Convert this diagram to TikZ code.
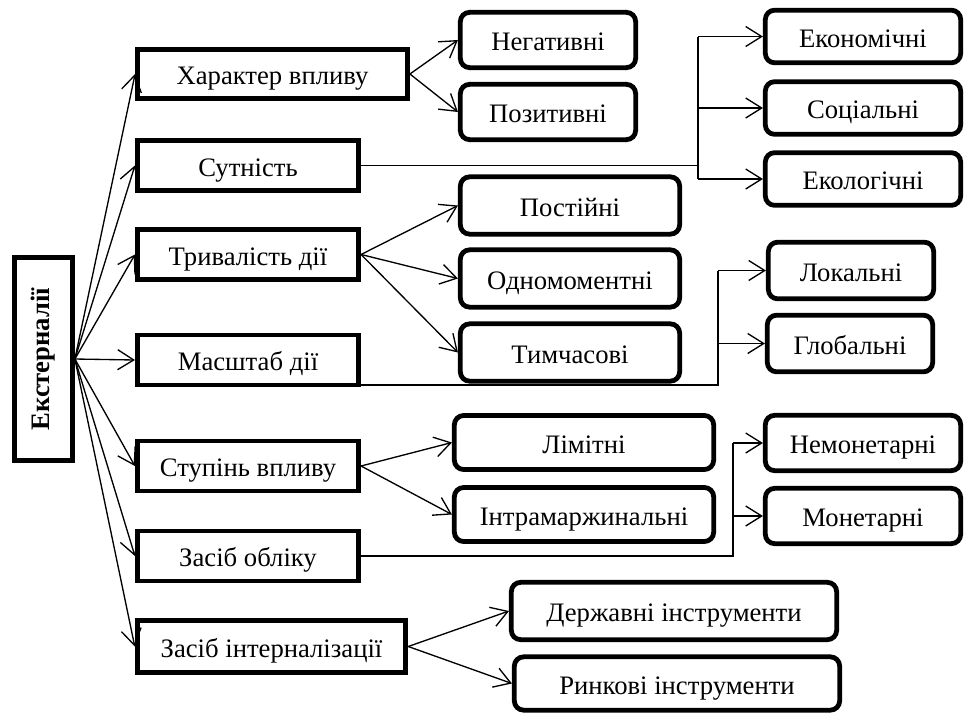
\documentclass[tikz,border=0pt]{standalone}
\usepackage{fontspec}
\setmainfont{Liberation Serif}
\usetikzlibrary{arrows.meta}
\begin{document}
\begin{tikzpicture}[x=0.75pt, y=-0.75pt, font=\fontsize{20}{24}\selectfont]

\tikzstyle{box1}=[rectangle, draw, line width=3.6pt, inner sep=2pt, text height=16pt, text depth=0pt]
\tikzstyle{box2}=[rectangle, draw, rounded corners=7pt, line width=3.6pt, inner sep=2pt, text height=16pt, text depth=0pt]
\tikzstyle{arrow}=[-{Straight Barb[length=12pt,width=15pt]}, line width=1pt]
\tikzstyle{line}=[line width=1pt]

\useasboundingbox (0,0) rectangle (966,714);

\node (Ext) [box1, text height=, text depth=, minimum width=43.5pt, minimum height=152.5pt] at (43.5,359) {\rotatebox{90}{\textbf{Екстерналії}}};

\node (Char) [box1, minimum width=202.5pt, minimum height=37pt] at (272.5,74) {Характер впливу};
\node (Sut) [box1, minimum width=166pt, minimum height=37.5pt] at (248,165.5) {Сутність};
\node (Tryv) [box1, minimum width=166pt, minimum height=37.5pt] at (248,254.5) {Тривалість дії};
\node (Masht) [box1, minimum width=166pt, minimum height=37.5pt] at (248,360) {Масштаб дії};
\node (Stup) [box1, minimum width=166pt, minimum height=37.5pt] at (248,466) {Ступінь впливу};
\node (Zasib) [box1, minimum width=166pt, minimum height=37.5pt] at (248,556) {Засіб обліку};
\node (Intern) [box1, minimum width=201.5pt, minimum height=39pt] at (271.5,646.5) {Засіб інтерналізації};

\node (Neg) [box2, minimum width=131.5pt, minimum height=41.5pt] at (548,40) {Негативні};
\node (Poz) [box2, minimum width=131.5pt, minimum height=41.5pt] at (548,112) {Позитивні};

\node (Ekon) [box2, minimum width=146.5pt, minimum height=39.5pt] at (863,36.5) {Економічні};
\node (Soc) [box2, minimum width=146.5pt, minimum height=39.5pt] at (863,108) {Соціальні};
\node (Ekol) [box2, minimum width=146.5pt, minimum height=39.5pt] at (863,179) {Екологічні};

\node (Post) [box2, minimum width=164.5pt, minimum height=43pt] at (570,205.5) {Постійні};
\node (Odn) [box2, minimum width=164.5pt, minimum height=43pt] at (570,278.5) {Одномоментні};
\node (Tym) [box2, minimum width=164.5pt, minimum height=43pt] at (570,352.5) {Тимчасові};

\node (Lok) [box2, minimum width=124pt, minimum height=42.5pt] at (851,270.5) {Локальні};
\node (Glob) [box2, minimum width=124pt, minimum height=42.5pt] at (850,343.5) {Глобальні};

\node (Lim) [box2, minimum width=194.5pt, minimum height=40.5pt] at (584,442.5) {Лімітні};
\node (Intra) [box2, minimum width=194.5pt, minimum height=40.5pt] at (584,514.5) {Інтрамаржинальні};

\node (Nemon) [box2, minimum width=146.5pt, minimum height=41.5pt] at (863,443) {Немонетарні};
\node (Mon) [box2, minimum width=146.5pt, minimum height=41.5pt] at (863,516) {Монетарні};

\node (Derzh) [box2, minimum width=244pt, minimum height=43pt] at (674,611) {Державні інструменти};
\node (Rynk) [box2, minimum width=244pt, minimum height=40pt] at (677,683.5) {Ринкові інструменти};

\coordinate (S) at (698,165);
\coordinate (M) at (718,385);
\coordinate (Z) at (733,556);

\draw [arrow] (Ext.east) -- (Char.west);
\draw [arrow] (Ext.east) -- (Sut.west);
\draw [arrow] (Ext.east) -- (Tryv.west);
\draw [arrow] (Ext.east) -- (Masht.west);
\draw [arrow] (Ext.east) -- (Stup.west);
\draw [arrow] (Ext.east) -- (Zasib.west);
\draw [arrow] (Ext.east) -- (Intern.west);

\draw [arrow] (Char.east) -- (Neg.west);
\draw [arrow] (Char.east) -- (Poz.west);

\draw [line] (Sut.east) -- (Sut.east -| S);
\draw [line] (S |- Ekon.west) -- (S |- Ekol.west);
\draw [arrow] (S |- Ekon.west) -- (Ekon.west);
\draw [arrow] (S |- Soc.west) -- (Soc.west);
\draw [arrow] (S |- Ekol.west) -- (Ekol.west);

\draw [arrow] (Tryv.east) -- (Post.west);
\draw [arrow] (Tryv.east) -- (Odn.west);
\draw [arrow] (Tryv.east) -- (Tym.west);

\draw [line] (Masht.south east |- M) -- (M) -- (M |- Lok.west);
\draw [arrow] (M |- Lok.west) -- (Lok.west);
\draw [arrow] (M |- Glob.west) -- (Glob.west);

\draw [arrow] (Stup.east) -- (Lim.west);
\draw [arrow] (Stup.east) -- (Intra.west);

\draw [line] (Zasib.east) -- (Zasib.east -| Z) -- (Z |- Nemon.west);
\draw [arrow] (Z |- Nemon.west) -- (Nemon.west);
\draw [arrow] (Z |- Mon.west) -- (Mon.west);

\draw [arrow] (Intern.east) -- (Derzh.west);
\draw [arrow] (Intern.east) -- (Rynk.west);

\end{tikzpicture}
\end{document}
